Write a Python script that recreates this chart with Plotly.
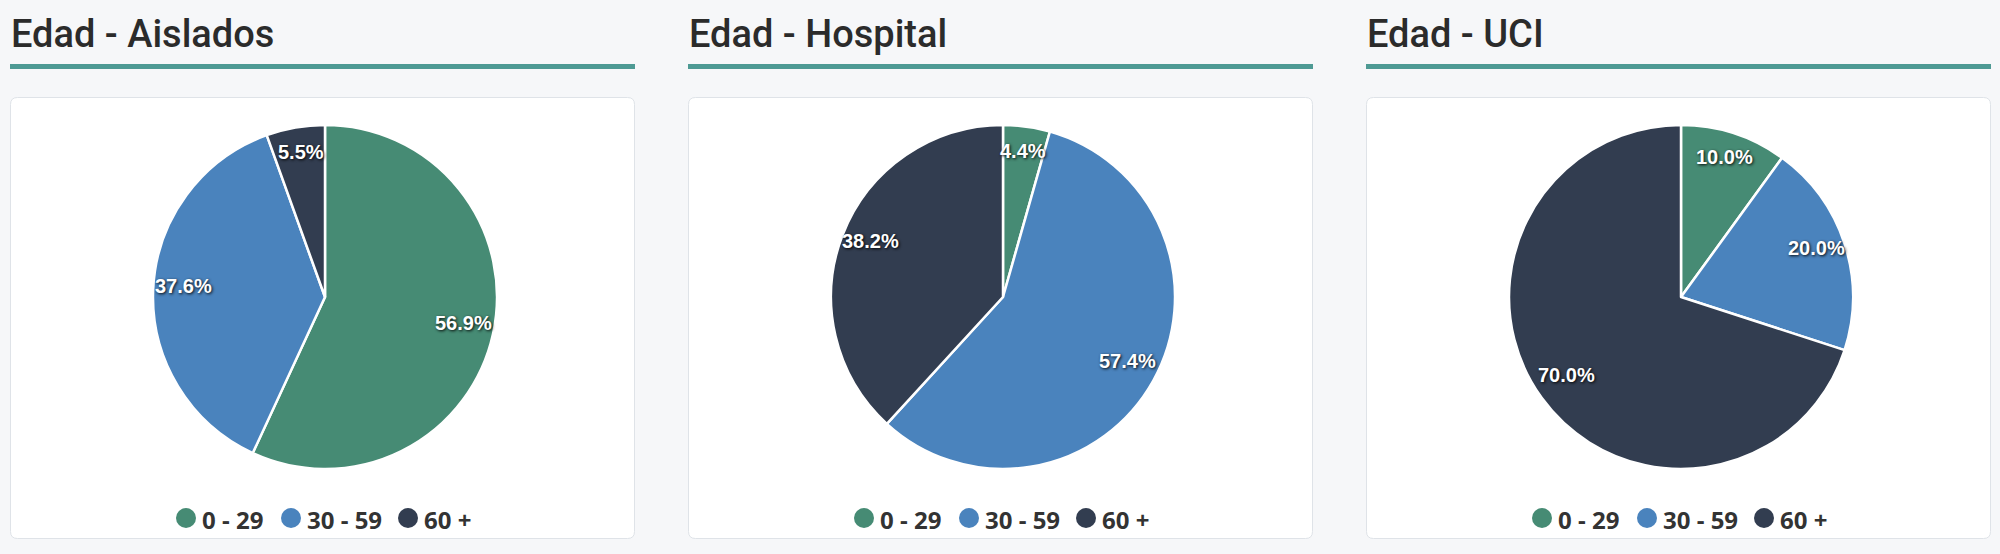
import math
import plotly.graph_objects as go

# ---- data ----
categories = ["0 - 29", "30 - 59", "60 +"]
panel_titles = ["Edad - Aislados", "Edad - Hospital", "Edad - UCI"]
aislados = [56.9, 37.6, 5.5]
hospital = [4.4, 57.4, 38.2]
uci = [10.0, 20.0, 70.0]
series = [aislados, hospital, uci]

# ---- styling / layout ----
W, H = 2000, 554
colors = ["#468b74", "#4a83bd", "#323d50"]
bg = "#f6f7f9"
teal = "#4e9a94"
panel_left = [10, 688, 1366]
panel_w = 625
card_top, card_bot = 97, 539
pie_cy = 297
pie_r = 172
label_r = pie_r - 30
legend_y = 518
legend_circle_dx = [-139, -34, 83]
legend_text_dx = [-125, -20, 97]

fig = go.Figure()


def rounded_rect(x0, y0, x1, y1, r):
    return (f"M{x0+r},{y0} L{x1-r},{y0} Q{x1},{y0} {x1},{y0+r} "
            f"L{x1},{y1-r} Q{x1},{y1} {x1-r},{y1} L{x0+r},{y1} "
            f"Q{x0},{y1} {x0},{y1-r} L{x0},{y0+r} Q{x0},{y0} {x0+r},{y0} Z")


shapes = []
annotations = []

for i, (vals, title) in enumerate(zip(series, panel_titles)):
    left = panel_left[i]
    cx = left + 315
    # card
    shapes.append(dict(type="path", xref="x", yref="y", layer="below",
                       path=rounded_rect(left + 0.5, card_top + 0.5, left + panel_w - 0.5, card_bot - 0.5, 7),
                       fillcolor="white", line=dict(color="#dfe3e8", width=1)))
    # teal underline
    shapes.append(dict(type="rect", xref="x", yref="y", layer="below",
                       x0=left, x1=left + panel_w, y0=64, y1=69,
                       fillcolor=teal, line=dict(width=0)))
    # title
    annotations.append(dict(x=left - 1, y=34, xref="x", yref="y", xanchor="left", yanchor="middle",
                            text=title, showarrow=False,
                            font=dict(family="Roboto", size=38, color="#2b2b2b", weight=500)))
    # pie
    fig.add_trace(go.Pie(
        labels=categories, values=vals, sort=False, direction="clockwise", rotation=0,
        marker=dict(colors=colors, line=dict(color="white", width=2.5)),
        textinfo="none", showlegend=False, hoverinfo="label+percent",
        domain=dict(x=[(cx - pie_r) / W, (cx + pie_r) / W],
                    y=[(H - pie_cy - pie_r) / H, (H - pie_cy + pie_r) / H]),
    ))
    # data labels
    total = sum(vals)
    cum = 0.0
    for v in vals:
        theta = 2 * math.pi * (cum + v / 2) / total
        cum += v
        annotations.append(dict(
            x=cx + label_r * math.sin(theta), y=pie_cy - label_r * math.cos(theta),
            xref="x", yref="y", xanchor="center", yanchor="middle", showarrow=False,
            yshift=5,
            text=f"{v / total * 100:.1f}%",
            font=dict(family="Liberation Sans, Arial", size=20, color="white", weight="bold",
                      shadow="1px 1px 3px rgba(0,0,0,0.95)")))
    # legend (circle + label)
    for k, (cat, col) in enumerate(zip(categories, colors)):
        ccx = cx + legend_circle_dx[k]
        shapes.append(dict(type="circle", xref="x", yref="y",
                           x0=ccx - 10, x1=ccx + 10, y0=legend_y - 10, y1=legend_y + 10,
                           fillcolor=col, line=dict(width=0)))
        annotations.append(dict(x=cx + legend_text_dx[k], y=legend_y + 1, xref="x", yref="y",
                                xanchor="left", yanchor="middle", showarrow=False, text=cat,
                                font=dict(family="Open Sans", size=24, color="#333333", weight="bold")))

fig.update_layout(
    width=W, height=H,
    margin=dict(l=0, r=0, t=0, b=0),
    paper_bgcolor=bg, plot_bgcolor=bg,
    showlegend=False,
    xaxis=dict(range=[0, W], visible=False, fixedrange=True, domain=[0, 1]),
    yaxis=dict(range=[H, 0], visible=False, fixedrange=True, domain=[0, 1]),
    shapes=shapes, annotations=annotations,
)

fig.write_html("out.html")
